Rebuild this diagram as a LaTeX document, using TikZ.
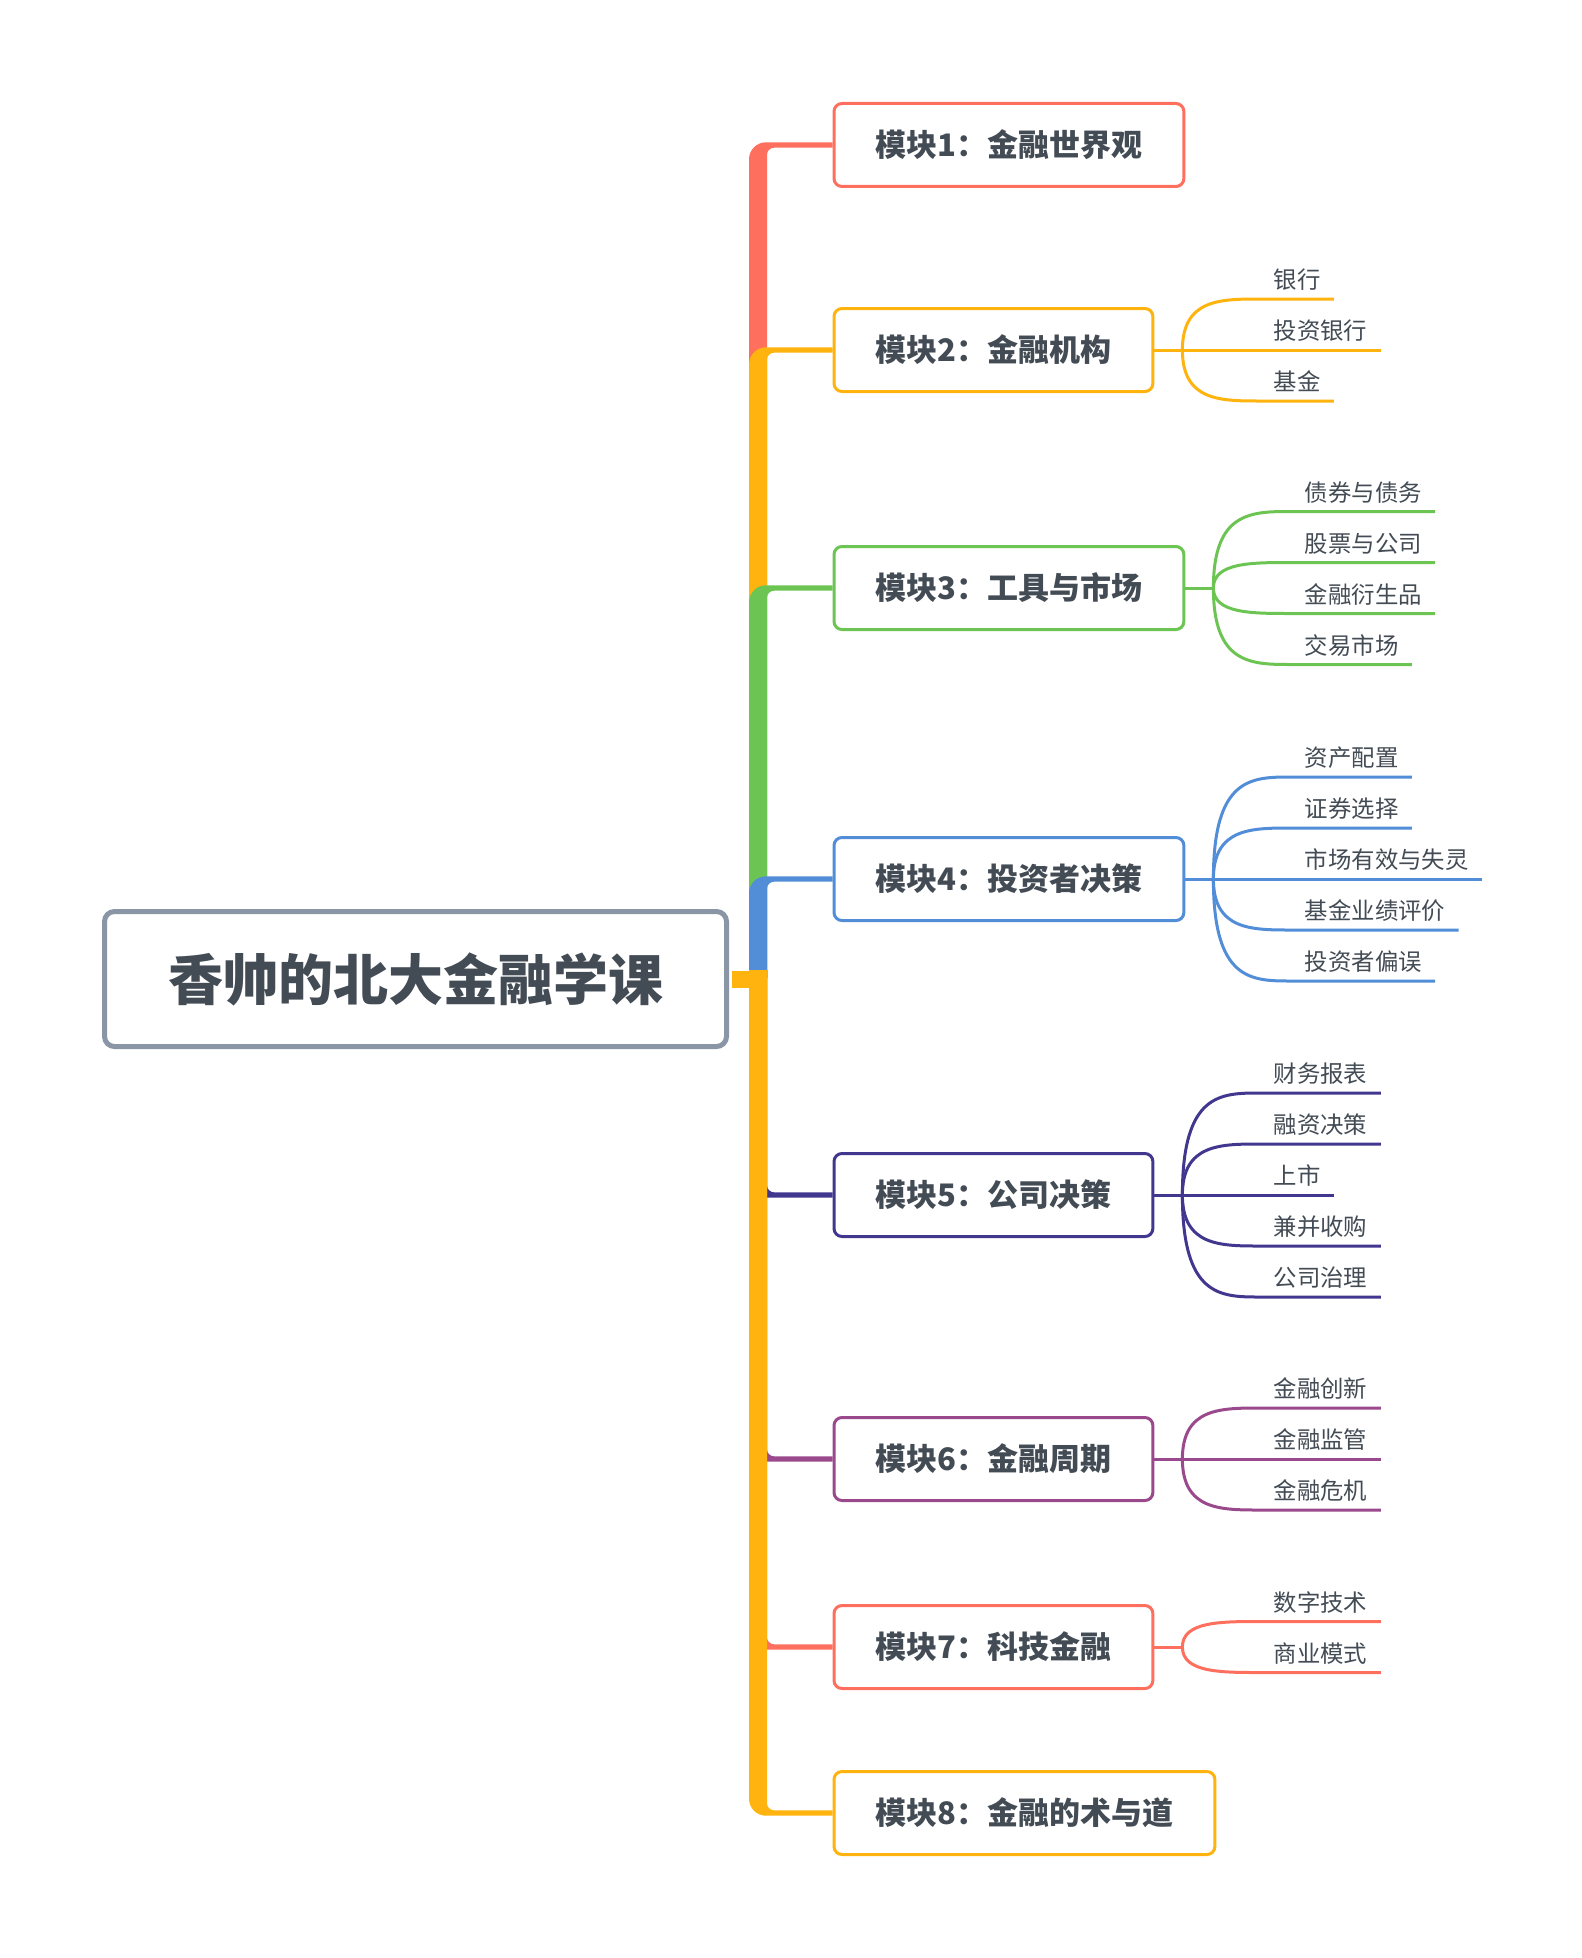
\documentclass[tikz,border=0pt]{standalone}
\usepackage{fontspec}
\newfontfamily\cjk{Noto Sans CJK SC}
\usetikzlibrary{calc}
\definecolor{cR}{HTML}{FE6F5E}
\definecolor{cY}{HTML}{FFB30F}
\definecolor{cG}{HTML}{6CC553}
\definecolor{cB}{HTML}{528DD8}
\definecolor{cI}{HTML}{42378F}
\definecolor{cP}{HTML}{9A4A8C}
\definecolor{cGray}{HTML}{8A95A6}
\definecolor{txt}{HTML}{434B54}
\newcommand\upbr[2]{\fill[#1] let \p1=(#2.west), \p2=(J) in
  (\x2-4.5pt,\y2) -- (\x2-4.5pt,\y1+1.35pt-8.5pt) arc[start angle=180,end angle=90,radius=8.5pt]
  -- (\x1,\y1+1.35pt) -- (\x1,\y1-1.35pt) -- (\x2+8pt,\y1-1.35pt)
  arc[start angle=90,end angle=180,radius=3.5pt] -- (\x2+4.5pt,\y2) -- cycle;}
\newcommand\dnbr[2]{\fill[#1] let \p1=(#2.west), \p2=(Jd) in
  (\x2-4.5pt,\y2) -- (\x2-4.5pt,\y1-1.35pt+8.5pt) arc[start angle=180,end angle=270,radius=8.5pt]
  -- (\x1,\y1-1.35pt) -- (\x1,\y1+1.35pt) -- (\x2+8pt,\y1+1.35pt)
  arc[start angle=270,end angle=180,radius=3.5pt] -- (\x2+4.5pt,\y2) -- cycle;}
\newcommand\leaves[4]{%
  \coordinate (f#1) at ($(m#1.east)+(28,0)$);
  \draw[#2,br] (m#1.east) -- (f#1);
  \foreach \lbl [count=\i] in {#4}{
    \pgfmathsetmacro\dy{(\i-(#3+1)/2)*51}
    \node[leaf] (l#1\i) at ($(f#1)+(78,\dy)$) {\lbl};
    \draw[#2,br] (f#1) .. controls (f#1 |- l#1\i.south west) and ($(l#1\i.south west)+(-40,0)$) .. (l#1\i.south west) -- (l#1\i.south east);
  }}
\begin{document}
\begin{tikzpicture}[x=0.5pt,y=-0.5pt,
  rootbox/.style={draw=cGray,line width=2.5pt,rounded corners=5pt,fill=white,
    minimum width=311pt,minimum height=67.5pt,text=txt,
    font=\cjk\bfseries\fontsize{27.5}{32}\selectfont},
  mod/.style={line width=1.5pt,rounded corners=4pt,fill=white,anchor=west,
    minimum height=41.5pt,inner xsep=20.75pt,text=txt,
    font=\cjk\bfseries\fontsize{15.5}{18}\selectfont},
  leaf/.style={anchor=south west,inner xsep=6.5pt,inner ysep=5pt,text depth=0pt,
    text=txt,font=\cjk\fontsize{11.7}{14}\selectfont},
  br/.style={line width=1.5pt}]
\useasboundingbox (0,0) rectangle (1582,1958);
\fill[white] (0,0) rectangle (1582,1958);
\node[rootbox] (root) at (415.5,979) {香帅的北大金融学课};
\node[mod,draw=cR] (m1) at (832.5,145) {模块1：金融世界观};
\node[mod,draw=cY] (m2) at (832.5,350) {模块2：金融机构};
\node[mod,draw=cG] (m3) at (832.5,588) {模块3：工具与市场};
\node[mod,draw=cB] (m4) at (832.5,879) {模块4：投资者决策};
\node[mod,draw=cI] (m5) at (832.5,1195) {模块5：公司决策};
\node[mod,draw=cP] (m6) at (832.5,1459) {模块6：金融周期};
\node[mod,draw=cR] (m7) at (832.5,1647) {模块7：科技金融};
\node[mod,draw=cY] (m8) at (832.5,1813) {模块8：金融的术与道};
\coordinate (J) at (758,978);
\coordinate (Jd) at (758,970);
\upbr{cR}{m1}
\upbr{cY}{m2}
\upbr{cG}{m3}
\upbr{cB}{m4}
\dnbr{cI}{m5}
\dnbr{cP}{m6}
\dnbr{cR}{m7}
\dnbr{cY}{m8}
\draw[cY,line width=8.5pt] ($(root.east)+(1.25pt,0)$) -- (root.east -| J);
\leaves{2}{cY}{3}{银行,投资银行,基金}
\leaves{3}{cG}{4}{债券与债务,股票与公司,金融衍生品,交易市场}
\leaves{4}{cB}{5}{资产配置,证券选择,市场有效与失灵,基金业绩评价,投资者偏误}
\leaves{5}{cI}{5}{财务报表,融资决策,上市,兼并收购,公司治理}
\leaves{6}{cP}{3}{金融创新,金融监管,金融危机}
\leaves{7}{cR}{2}{数字技术,商业模式}
\end{tikzpicture}
\end{document}
